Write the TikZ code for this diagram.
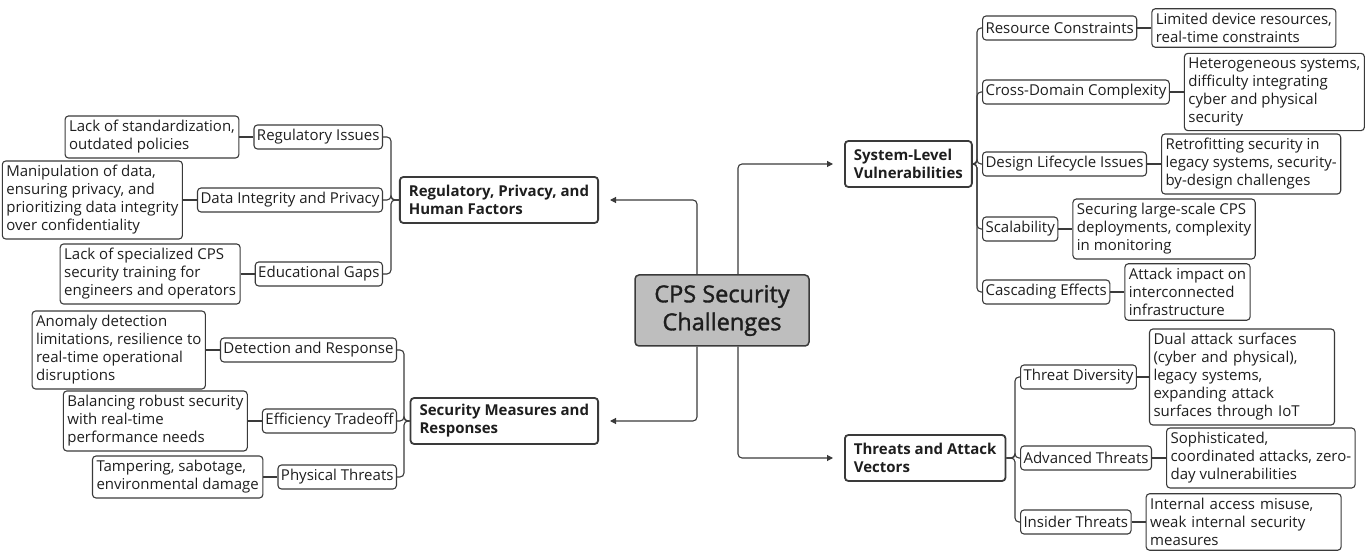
\documentclass[tikz,border=0pt]{standalone}
\usepackage{fontspec}
\setmainfont{Open Sans}
\newfontfamily\rootfont[FakeBold=1.4]{Open Sans}
\usetikzlibrary{positioning,arrows.meta}
\definecolor{linec}{HTML}{3A3A3A}
\definecolor{txtc}{HTML}{1E1E1E}
\definecolor{rootfill}{HTML}{BEBEBE}
\tikzset{
  base/.style={draw=linec, rounded corners=3.5pt, text=txtc, font=\fontsize{15}{18}\selectfont, align=left},
  lvtwo/.style={base, line width=1.1pt, inner xsep=3pt, inner ysep=3pt, minimum height=24pt},
  leaf/.style={base, line width=1.1pt, inner xsep=4pt, inner ysep=4.5pt},
  lvone/.style={base, line width=1.8pt, inner xsep=9pt, inner ysep=5pt, font=\fontsize{15}{18}\selectfont\bfseries, minimum height=46pt},
  rootbox/.style={draw=linec, fill=rootfill, line width=1.5pt, rounded corners=4pt, minimum width=174pt, minimum height=71pt, align=center, text=txtc, font=\fontsize{23.5}{28}\rootfont},
  conn/.style={draw=linec, line width=1.1pt, rounded corners=4pt},
  arr/.style={conn, -{Triangle[length=6pt,width=6pt]}},
  node distance=14pt
}
\begin{document}
\begin{tikzpicture}[x=1pt,y=-1pt]
\useasboundingbox (0,0) rectangle (1369,553);
% root
\node[rootbox] (root) at (722,310.5) {CPS Security\\Challenges};
% level one
\node[lvone, anchor=east] (reg) at (599,200) {Regulatory, Privacy, and\\Human Factors};
\node[lvone, anchor=east] (sec) at (599,421) {Security Measures and\\Responses};
\node[lvone, anchor=west] (sys) at (844,164) {System-Level\\Vulnerabilities};
\node[lvone, anchor=west] (thr) at (844,458) {Threats and Attack\\Vectors};
% arrows
\draw[arr] ([xshift=-25pt]root.north) |- ([xshift=11pt]reg.east);
\draw[arr] ([xshift=-25pt]root.south) |- ([xshift=11pt]sec.east);
\draw[arr] ([xshift=16pt]root.north) |- ([xshift=-11pt]sys.west);
\draw[arr] ([xshift=16pt]root.south) |- ([xshift=-11pt]thr.west);
% left upper group
\node[lvtwo, anchor=east] (ri) at (383,137) {Regulatory Issues};
\node[lvtwo, anchor=east] (dip) at (383,200) {Data Integrity and Privacy};
\node[lvtwo, anchor=east] (eg) at (383,274) {Educational Gaps};
\node[leaf, left=of ri] (riL) {Lack of standardization,\\outdated policies};
\node[leaf, left=of dip] (dipL) {Manipulation of data,\\ensuring privacy, and\\prioritizing data integrity\\over confidentiality};
\node[leaf, left=of eg] (egL) {Lack of specialized CPS\\security training for\\engineers and operators};
\coordinate (bA) at (391,200);
\draw[conn] (reg.west) -- (bA) |- (ri.east);
\draw[conn] (reg.west) -- (bA) |- (dip.east);
\draw[conn] (reg.west) -- (bA) |- (eg.east);
\draw[conn] (riL) -- (ri);
\draw[conn] (dipL) -- (dip);
\draw[conn] (egL) -- (eg);
% left lower group
\node[lvtwo, anchor=east] (dr) at (397,350) {Detection and Response};
\node[lvtwo, anchor=east] (et) at (397,421) {Efficiency Tradeoff};
\node[lvtwo, anchor=east] (pt) at (397,477) {Physical Threats};
\node[leaf, left=of dr] (drL) {Anomaly detection\\limitations, resilience to\\real-time operational\\disruptions};
\node[leaf, left=of et] (etL) {Balancing robust security\\with real-time\\performance needs};
\node[leaf, left=of pt] (ptL) {Tampering, sabotage,\\environmental damage};
\coordinate (bB) at (404,421);
\draw[conn] (sec.west) -- (bB) |- (dr.east);
\draw[conn] (sec.west) -- (bB) |- (et.east);
\draw[conn] (sec.west) -- (bB) |- (pt.east);
\draw[conn] (drL) -- (dr);
\draw[conn] (etL) -- (et);
\draw[conn] (ptL) -- (pt);
% right upper group
\node[lvtwo, anchor=west] (rc) at (982,28) {Resource Constraints};
\node[lvtwo, anchor=west] (cd) at (982,92) {Cross-Domain Complexity};
\node[lvtwo, anchor=west] (dl) at (982,164) {Design Lifecycle Issues};
\node[lvtwo, anchor=west] (sc) at (982,229) {Scalability};
\node[lvtwo, anchor=west] (ce) at (982,292) {Cascading Effects};
\node[leaf, right=of rc] (rcL) {Limited device resources,\\real-time constraints};
\node[leaf, right=of cd] (cdL) {Heterogeneous systems,\\difficulty integrating\\cyber and physical\\security};
\node[leaf, right=of dl] (dlL) {Retrofitting security in\\legacy systems, security-\\by-design challenges};
\node[leaf, right=of sc] (scL) {Securing large-scale CPS\\deployments, complexity\\in monitoring};
\node[leaf, right=of ce] (ceL) {Attack impact on\\interconnected\\infrastructure};
\coordinate (bC) at (977,164);
\foreach \c in {rc,cd,dl,sc,ce} {\draw[conn] (sys.east) -- (bC) |- (\c.west);}
\draw[conn] (rc) -- (rcL);
\draw[conn] (cd) -- (cdL);
\draw[conn] (dl) -- (dlL);
\draw[conn] (sc) -- (scL);
\draw[conn] (ce) -- (ceL);
% right lower group
\node[lvtwo, anchor=west] (td) at (1020,377) {Threat Diversity};
\node[lvtwo, anchor=west] (at) at (1020,458) {Advanced Threats};
\node[lvtwo, anchor=west] (it) at (1020,522) {Insider Threats};
\node[leaf, right=12pt of td, text width=177pt] (tdL) {Dual attack surfaces\\(cyber and physical),\\legacy systems,\\expanding attack\\surfaces through IoT};
\node[leaf, right=of at] (atL) {Sophisticated,\\coordinated attacks, zero-\\day vulnerabilities};
\node[leaf, right=of it, text width=187pt] (itL) {Internal access misuse,\\weak internal security\\measures};
\coordinate (bD) at (1015,458);
\foreach \c in {td,at,it} {\draw[conn] (thr.east) -- (bD) |- (\c.west);}
\draw[conn] (td) -- (tdL);
\draw[conn] (at) -- (atL);
\draw[conn] (it) -- (itL);
\end{tikzpicture}
\end{document}
